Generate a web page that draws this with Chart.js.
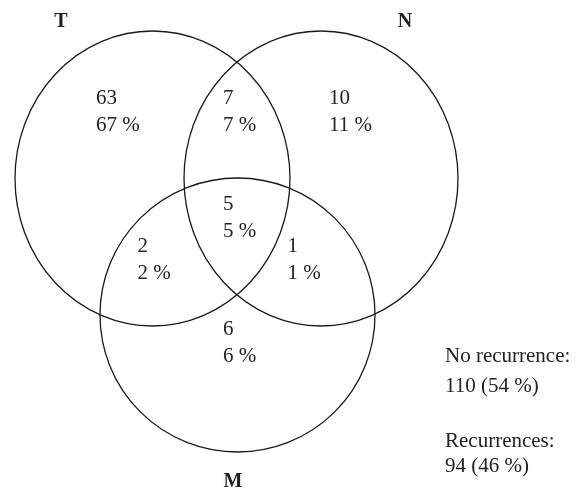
<!DOCTYPE html>
<html>
<head>
<meta charset="utf-8">
<script src="https://cdn.jsdelivr.net/npm/chart.js@4"></script>
<style>
  html, body { margin: 0; padding: 0; background: #fff; }
  #wrap { width: 580px; height: 490px; }
</style>
</head>
<body>
<div id="wrap"><canvas id="venn" width="580" height="490"></canvas></div>
<script>
// Venn diagram of recurrences (T / N / M), drawn in a 580 x 490 data space
const setNames = ['T', 'N', 'M'];
const setCx = [152.5, 321, 237.5];
const setCy = [178.5, 178.5, 315];
const setRx = [137.5, 137, 137.5];
const setRy = [147.5, 147.5, 137];
const setLabelX = [61, 405, 233];
const setLabelY = [27, 27, 487];

const regionCounts = ['63', '7', '10', '5', '2', '1', '6'];
const regionPct = ['67 %', '7 %', '11 %', '5 %', '2 %', '1 %', '6 %'];
const regionX = [96, 223, 329, 223, 137.5, 287.5, 223];
const regionY = [104, 104, 104, 210, 252, 252, 335];

const summaryLines = ['No recurrence:', '110 (54 %)', 'Recurrences:', '94 (46 %)'];
const summaryX = [445, 445, 445, 445];
const summaryY = [362, 392, 447, 472];

const INK = '#222';
const SERIF = '"Liberation Serif", "DejaVu Serif", serif';

(function(){
  const ctx = document.getElementById('venn');

  const ellipsePlugin = {
    id: 'ellipses',
    afterDatasetsDraw(chart){
      const { ctx: g, scales: { x, y } } = chart;
      g.save();
      g.strokeStyle = '#1a1a1a';
      g.lineWidth = 1.3;
      setNames.forEach((n, i) => {
        const px = x.getPixelForValue(setCx[i]);
        const py = y.getPixelForValue(setCy[i]);
        const rx = Math.abs(x.getPixelForValue(setCx[i] + setRx[i]) - px);
        const ry = Math.abs(y.getPixelForValue(setCy[i] + setRy[i]) - py);
        g.beginPath();
        g.ellipse(px, py, rx, ry, 0, 0, Math.PI * 2);
        g.stroke();
      });

      g.fillStyle = INK;
      g.textBaseline = 'alphabetic';
      g.textAlign = 'left';

      // set names
      g.font = 'bold 20px ' + SERIF;
      setNames.forEach((n, i) => {
        g.textAlign = 'center';
        g.fillText(n, x.getPixelForValue(setLabelX[i]), y.getPixelForValue(setLabelY[i]));
      });

      // region counts
      g.textAlign = 'left';
      g.font = '21px ' + SERIF;
      regionCounts.forEach((c, i) => {
        const px = x.getPixelForValue(regionX[i]);
        g.fillText(c, px, y.getPixelForValue(regionY[i]));
        g.fillText(regionPct[i], px, y.getPixelForValue(regionY[i] + 26.5));
      });

      // summary
      summaryLines.forEach((s, i) => {
        g.fillText(s, x.getPixelForValue(summaryX[i]), y.getPixelForValue(summaryY[i]));
      });
      g.restore();
    }
  };

  new Chart(ctx, {
    type: 'scatter',
    data: {
      datasets: setNames.map((n, i) => ({
        label: n,
        data: [{ x: setCx[i], y: setCy[i] }],
        pointRadius: 0,
        pointHoverRadius: 0,
      }))
    },
    options: {
      responsive: false,
      animation: false,
      events: [],
      layout: { padding: 0 },
      scales: {
        x: { type: 'linear', min: 0, max: 580, display: false },
        y: { type: 'linear', min: 0, max: 490, reverse: true, display: false },
      },
      plugins: {
        legend: { display: false },
        tooltip: { enabled: false },
      }
    },
    plugins: [ellipsePlugin]
  });
})();
</script>
</body>
</html>
